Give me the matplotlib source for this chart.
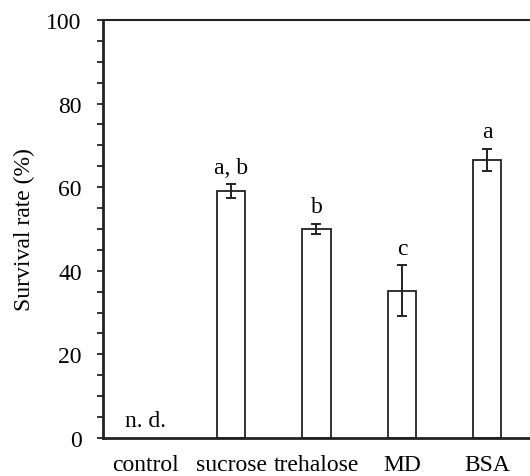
import numpy as np
import matplotlib.pyplot as plt
from matplotlib.ticker import MultipleLocator

plt.rcParams['font.family'] = ['Liberation Serif', 'DejaVu Serif']

groups = ['control', 'sucrose', 'trehalose', 'MD', 'BSA']
rate = [0.0, 59.1, 50.0, 35.2, 66.5]
err = [0.0, 1.6, 1.3, 6.1, 2.6]
letters = ['n. d.', 'a, b', 'b', 'c', 'a']

fig = plt.figure(figsize=(5.3, 4.77), dpi=100)
ax = fig.add_axes([0.1943, 0.0797, 0.8057, 0.8763])

x = np.arange(len(groups))
ax.bar(x[1:], rate[1:], width=0.33, color='white', edgecolor='#222222',
       linewidth=1.3, zorder=2)
ax.errorbar(x[1:], rate[1:], yerr=err[1:], fmt='none', ecolor='#222222',
            elinewidth=1.4, capsize=3.8, capthick=1.4, zorder=3)

for i in range(len(groups)):
    if i == 0:
        ax.text(x[i], 1.6, letters[i], ha='center', va='bottom', fontsize=17)
    else:
        ax.text(x[i], rate[i] + err[i] + 1.6, letters[i], ha='center',
                va='bottom', fontsize=17)

ax.set_xlim(-0.5, 4.5)
ax.set_ylim(0, 100)
ax.set_xticks(x)
ax.set_xticklabels(groups, fontsize=17)
ax.tick_params(axis='x', length=0, pad=11.5)
ax.yaxis.set_major_locator(MultipleLocator(20))
ax.yaxis.set_minor_locator(MultipleLocator(5))
ax.tick_params(axis='y', which='both', direction='out', length=4.3,
               width=1.3, labelsize=17, pad=11, color='#222222')
ax.set_ylabel('Survival rate (%)', fontsize=17, labelpad=8)

ax.spines['right'].set_visible(False)
ax.spines['left'].set_linewidth(2.0)
ax.spines['bottom'].set_linewidth(2.0)
ax.spines['top'].set_linewidth(1.5)
for s in ax.spines.values():
    s.set_color('#222222')

fig.savefig('out.png', dpi=100)
